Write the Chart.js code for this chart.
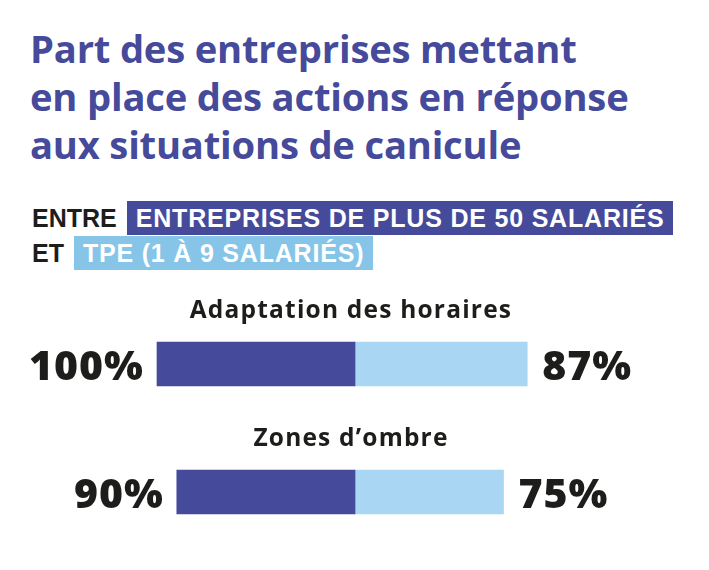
<!DOCTYPE html>
<html>
<head>
<meta charset="utf-8">
<script src="https://cdn.jsdelivr.net/npm/chart.js@4"></script>
<style>
  html, body { margin: 0; padding: 0; background: #fff; }
  #wrap { position: relative; width: 709px; height: 570px; overflow: hidden; }
  #title {
    position: absolute; left: 30px; top: 24px; margin: 0;
    font: 700 38.2px/48px "Open Sans", sans-serif; color: #454a9a; letter-spacing: -0.2px;
  }
  .sub {
    position: absolute; left: 32px;
    font: 700 25px/34px "Liberation Sans Narrow", sans-serif; color: #1d1d1b;
  }
  .sub span { color: #fff; padding: 0 9px; display: inline-block; letter-spacing: 0.8px; }
  #sub1 { top: 201px; }
  #sub2 { top: 236px; }
  #sub1 span { background: #454a9a; margin-left: 10px; }
  #sub2 span { background: #86c5e8; margin-left: 10px; }
  canvas { position: absolute; left: 0; top: 0; }
</style>
</head>
<body>
<div id="wrap">
  <h1 id="title">Part des entreprises mettant<br>en place des actions en réponse<br>aux situations de canicule</h1>
  <div class="sub" id="sub1">ENTRE<span>ENTREPRISES DE PLUS DE 50 SALARIÉS</span></div>
  <div class="sub" id="sub2">ET<span>TPE (1 À 9 SALARIÉS)</span></div>
  <canvas id="chart" width="709" height="570"></canvas>
</div>
<script>
// Data
const categories = ["Adaptation des horaires", "Zones d’ombre"];
const bigCompanies = [100, 90];   // entreprises de plus de 50 salariés
const smallCompanies = [87, 75];  // TPE (1 à 9 salariés)

const darkBlue = "#454a9a";
const lightBlue = "#a8d6f3";

// Draws category titles above bars and percentages at bar ends
const labelPlugin = {
  id: "labels",
  afterDatasetsDraw(chart) {
    const ctx = chart.ctx;
    const left = chart.getDatasetMeta(0).data;
    const right = chart.getDatasetMeta(1).data;
    ctx.save();
    ctx.textBaseline = "alphabetic";
    left.forEach((bar, i) => {
      const y = bar.y;
      ctx.fillStyle = "#1d1d1b";
      ctx.font = "700 24.5px 'Open Sans', sans-serif";
      ctx.letterSpacing = "1.2px";
      ctx.textAlign = "center";
      ctx.fillText(categories[i], chart.scales.x.getPixelForValue(0) - 4, y - 46);

      ctx.font = "800 41px 'Open Sans', sans-serif";
      ctx.letterSpacing = "1px";
      ctx.textAlign = "right";
      ctx.fillText(bigCompanies[i] + "%", bar.x - 13, y + 16);
      ctx.textAlign = "left";
      ctx.fillText(smallCompanies[i] + "%", right[i].x + 15, y + 16);
    });
    ctx.restore();
  },
};

new Chart(document.getElementById("chart"), {
  type: "bar",
  data: {
    labels: categories,
    datasets: [
      {
        label: "Entreprises de plus de 50 salariés",
        data: bigCompanies.map((v) => -v),
        backgroundColor: darkBlue,
        barThickness: 44,
      },
      {
        label: "TPE (1 à 9 salariés)",
        data: smallCompanies,
        backgroundColor: lightBlue,
        barThickness: 44,
      },
    ],
  },
  options: {
    indexAxis: "y",
    responsive: false,
    animation: false,
    layout: { padding: { left: 58, right: 57, top: 300, bottom: 14 } },
    plugins: {
      legend: { display: false },
      tooltip: { enabled: false },
    },
    scales: {
      x: { stacked: true, min: -150, max: 150, display: false },
      y: { stacked: true, display: false },
    },
  },
  plugins: [labelPlugin],
});
</script>
</body>
</html>
